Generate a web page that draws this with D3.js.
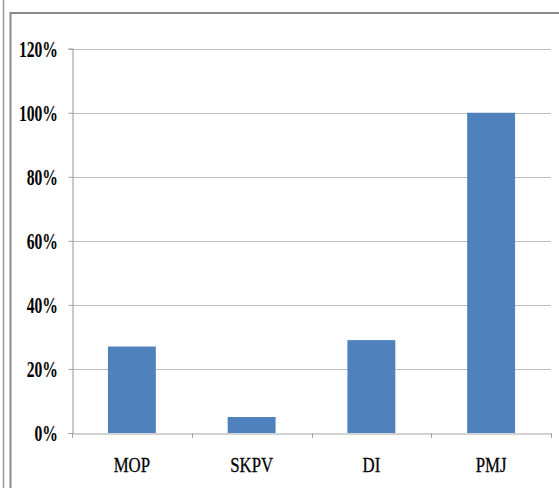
<!DOCTYPE html>
<html><head><meta charset="utf-8">
<script src="https://cdn.jsdelivr.net/npm/d3@7"></script>
<style>body{margin:0;background:#fff}svg{display:block}
.lbl{font-family:"Liberation Serif","Times New Roman",Times,serif;}
</style>
</head><body>
<script>
const categories = ["MOP", "SKPV", "DI", "PMJ"];
const values = [0.27, 0.05, 0.29, 1.00];
const yTicks = [0, 0.2, 0.4, 0.6, 0.8, 1.0, 1.2];

const W = 559, H = 488;
const svg = d3.select("body").append("svg").attr("width", W).attr("height", H);

// outer frame lines
svg.append("line").attr("x1", 3.5).attr("x2", 3.5).attr("y1", 0).attr("y2", H).attr("stroke", "#9a9a9a").attr("stroke-width", 1.5);
svg.append("line").attr("x1", 10.5).attr("x2", 10.5).attr("y1", 12).attr("y2", H).attr("stroke", "#8a8a8a").attr("stroke-width", 2);
svg.append("line").attr("x1", 10).attr("x2", W).attr("y1", 13).attr("y2", 13).attr("stroke", "#8a8a8a").attr("stroke-width", 2);

const x = d3.scaleBand().domain(categories).range([72, 551]).padding(0);
const y = d3.scaleLinear().domain([0, 1.2]).range([433, 48.7]);

// gridlines
svg.append("g").selectAll("line").data(yTicks.filter(d => d > 0)).join("line")
  .attr("x1", 72).attr("x2", 551)
  .attr("y1", d => Math.round(y(d)) + 0.5).attr("y2", d => Math.round(y(d)) + 0.5)
  .attr("stroke", "#bdbdbd").attr("stroke-width", 1.2);

// bars
const bw = x.bandwidth() * 0.4;
svg.append("g").selectAll("rect").data(categories).join("rect")
  .attr("x", d => x(d) + (x.bandwidth() - bw) / 2)
  .attr("width", bw)
  .attr("y", (d, i) => y(values[i]))
  .attr("height", (d, i) => y(0) - y(values[i]))
  .attr("fill", "#4f81bd");

// y axis
const fmt = d3.format(".0%");
const yAxis = d3.axisLeft(y).tickValues(yTicks).tickFormat(fmt).tickSize(4);
const gy = svg.append("g").attr("transform", "translate(72.5,0)").call(yAxis);
gy.select(".domain").attr("stroke", "#a6a6a6").attr("stroke-width", 1.2);
gy.selectAll(".tick line").attr("stroke", "#a6a6a6");
gy.selectAll(".tick text").remove();
svg.append("g").selectAll("text").data(yTicks).join("text")
  .attr("class", "lbl")
  .attr("transform", d => `translate(58,${y(d) + 8}) scale(0.68,1)`)
  .attr("text-anchor", "end")
  .attr("font-weight", "bold").attr("font-size", 23).attr("fill", "#000")
  .text(d => fmt(d));

// x axis
const xAxis = d3.axisBottom(x).tickSize(0);
const gx = svg.append("g").attr("transform", "translate(0,433.5)").call(xAxis);
gx.select(".domain").attr("stroke", "#a6a6a6").attr("stroke-width", 1.2);
gx.selectAll(".tick text").remove();
svg.append("g").selectAll("text").data(categories).join("text")
  .attr("class", "lbl")
  .attr("transform", d => `translate(${x(d) + x.bandwidth() / 2},472) scale(0.8,1)`)
  .attr("text-anchor", "middle")
  .attr("font-size", 21).attr("fill", "#000")
  .attr("stroke", "#000").attr("stroke-width", 0.3)
  .text(d => d);
// category separator ticks
svg.append("g").selectAll("line").data(categories.map(c => x(c)).concat([x(categories[categories.length-1]) + x.bandwidth()])).join("line")
  .attr("x1", d => Math.round(d) + 0.5).attr("x2", d => Math.round(d) + 0.5)
  .attr("y1", 433).attr("y2", 438).attr("stroke", "#a6a6a6");
</script>
</body></html>
